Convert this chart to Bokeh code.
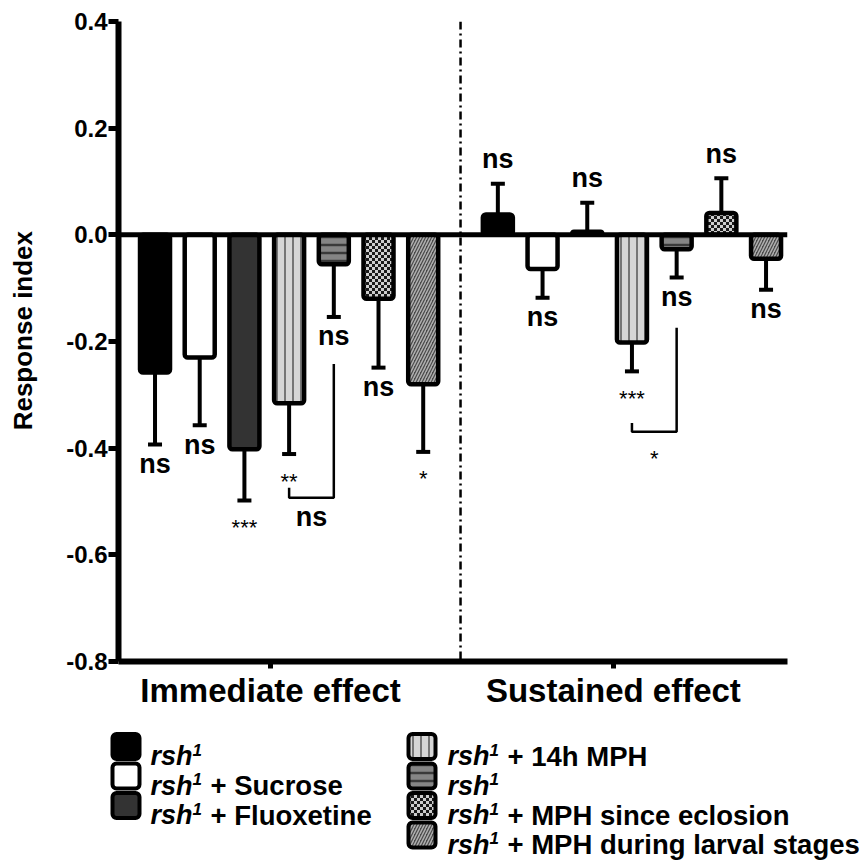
import zlib, struct, base64
from bokeh.plotting import figure
from bokeh.models import Range1d, FixedTicker, Span, ColumnDataSource, ImageURLTexture
from bokeh.core.properties import value
from bokeh.embed import file_html
from bokeh.resources import INLINE

# ---------------- data ----------------
groups = ["Immediate effect", "Sustained effect"]
immediate_mean = [-0.258, -0.230, -0.402, -0.316, -0.055, -0.120, -0.280]
immediate_sem = [0.135, 0.127, 0.096, 0.095, 0.099, 0.129, 0.127]
sustained_mean = [0.038, -0.064, 0.006, -0.202, -0.027, 0.041, -0.045]
sustained_sem = [0.058, 0.054, 0.054, 0.054, 0.053, 0.065, 0.058]
immediate_sig = ["ns", "ns", "***", "**", "ns", "ns", "*"]
sustained_sig = ["ns", "ns", "ns", "***", "ns", "ns", "ns"]

# comparison brackets between bar a and bar b of a group
bracket_group = [0, 1]
bracket_bar_a = [3, 3]
bracket_bar_b = [4, 4]
bracket_top_a = [-0.474, -0.353]
bracket_top_b = [-0.242, -0.174]
bracket_bottom = [-0.493, -0.369]
bracket_label = ["ns", "*"]

y_ticks = [-0.8, -0.6, -0.4, -0.2, 0.0, 0.2, 0.4]
y_tick_labels = ["-0.8", "-0.6", "-0.4", "-0.2", "0.0", "0.2", "0.4"]
y_title = "Response index"

legend_genotype = "rsh"
legend_superscript = "1"
legend_suffix = ["", "+ Sucrose", "+ Fluoxetine", "+ 14h MPH", "",
                 "+ MPH since eclosion", "+ MPH during larval stages"]

# ---------------- styles ----------------
FONT = "Liberation Sans"
bar_fill = ["#000000", "#ffffff", "#333333", "#d6d6d6", "#858585", "#d0d0d0", "#4a4a4a"]
bar_hatch = [" ", " ", " ", "|", "-", "checker", "/"]
bar_hatch_color = ["#000000", "#000000", "#000000", "#555555", "#3a3a3a", "#000000", "#b0b0b0"]
bar_hatch_scale = [8, 8, 8, 8, 8, 8, 6]
bar_hatch_weight = [1, 1, 1, 1.5, 2.5, 1, 1.5]


def png_gray(rows):
    h = len(rows)
    w = len(rows[0])
    raw = b"".join(b"\x00" + bytes(r) for r in rows)

    def chunk(t, d):
        c = struct.pack(">I", len(d)) + t + d
        return c + struct.pack(">I", zlib.crc32(t + d) & 0xFFFFFFFF)

    return (b"\x89PNG\r\n\x1a\n" + chunk(b"IHDR", struct.pack(">IIBBBBB", w, h, 8, 0, 0, 0, 0))
            + chunk(b"IDAT", zlib.compress(raw)) + chunk(b"IEND", b""))


cell = 3
checker_rows = [[25 if ((x // cell) + (y // cell)) % 2 == 0 else 205 for x in range(2 * cell)]
                for y in range(2 * cell)]
checker_url = "data:image/png;base64," + base64.b64encode(png_gray(checker_rows)).decode()
hatch_extra = {"checker": ImageURLTexture(url=checker_url, repetition="repeat")}

# ---------------- layout constants ----------------
LEFT, RIGHT, TOP, BOTTOM = 118, 77, 21, 59
PPU = 640 / 1.2            # pixels per data unit on y
BAR_STEP_PX = 44.7         # pixels per x unit
GROUP_OFFSET = 7.67        # x offset of the second group
BAR_W = 30 / BAR_STEP_PX
CAP_HALF = 7 / BAR_STEP_PX
TICK_SHIFT = 0.415

means = immediate_mean + sustained_mean
sems = immediate_sem + sustained_sem
sigs = immediate_sig + sustained_sig
n = len(immediate_mean)
xs = [g * GROUP_OFFSET + k for g in range(2) for k in range(n)]
signs = [1 if m >= 0 else -1 for m in means]
ends = [m + s * e for m, s, e in zip(means, signs, sems)]

styles = dict(fill=bar_fill * 2, hatch=bar_hatch * 2, hcol=bar_hatch_color * 2,
              hsc=bar_hatch_scale * 2, hw=bar_hatch_weight * 2)
src = ColumnDataSource(dict(x=xs, top=means, **styles))

p = figure(width=864, height=720, x_range=Range1d(-0.817, 14.15), y_range=Range1d(-0.8, 0.4),
           output_backend="svg", toolbar_location=None,
           min_border_left=LEFT, min_border_right=RIGHT, min_border_top=TOP,
           min_border_bottom=BOTTOM)
p.outline_line_color = None
p.grid.visible = False
p.background_fill_color = "white"

# error bars (one-sided, away from zero)
p.segment(x0=xs, y0=means, x1=xs, y1=ends, line_color="black", line_width=4)
p.segment(x0=[x - CAP_HALF for x in xs], y0=ends, x1=[x + CAP_HALF for x in xs], y1=ends,
          line_color="black", line_width=4)

# bars
p.vbar(x="x", top="top", bottom=0, width=BAR_W, source=src, fill_color="fill",
       line_color="black", line_width=4.5, hatch_pattern="hatch", hatch_color="hcol",
       hatch_scale="hsc", hatch_weight="hw", hatch_extra=hatch_extra, border_radius=3)

# zero line and divider
p.add_layout(Span(location=0, dimension="width", line_color="black", line_width=5))
p.add_layout(Span(location=(n - 1 + GROUP_OFFSET) / 2, dimension="height", line_color="black",
                  line_width=2.5, line_dash="8 4 2 4"))

# significance labels
ns_x, ns_y, ns_t, st_x, st_y, st_t = [], [], [], [], [], []
for x, e, s, t in zip(xs, ends, signs, sigs):
    if t == "ns":
        ns_x.append(x)
        ns_y.append(e + s * 22 / PPU + 2.5 / PPU)
        ns_t.append(t)
    else:
        st_x.append(x)
        st_y.append(e + s * 22 / PPU - 5 / PPU)
        st_t.append(t)

# brackets
bx, by = [], []
for g, a, b, ta, tb, bot, lab in zip(bracket_group, bracket_bar_a, bracket_bar_b, bracket_top_a,
                                     bracket_top_b, bracket_bottom, bracket_label):
    xa = g * GROUP_OFFSET + a
    xb = g * GROUP_OFFSET + b
    bx.append([xa, xa, xb, xb])
    by.append([ta, bot, bot, tb])
    if lab == "ns":
        ns_x.append((xa + xb) / 2)
        ns_y.append(bot - 22 / PPU + 2.5 / PPU)
        ns_t.append(lab)
    else:
        st_x.append((xa + xb) / 2)
        st_y.append(bot - 22 / PPU - 5 / PPU)
        st_t.append(lab)
p.multi_line(xs=bx, ys=by, line_color="black", line_width=2.5)

p.text(x=ns_x, y=ns_y, text=ns_t, text_font=value(FONT), text_font_size="27px",
       text_font_style="bold", text_align="center", text_baseline="middle", text_color="black")
p.text(x=st_x, y=st_y, text=st_t, text_font=value(FONT), text_font_size="22px",
       text_font_style="normal", text_align="center", text_baseline="middle", text_color="black")

# axes
tick_x = [round(g * GROUP_OFFSET + (n - 1) / 2 - TICK_SHIFT, 4) for g in range(2)]
p.xaxis.ticker = FixedTicker(ticks=tick_x)
p.xaxis.major_label_overrides = {t: lab for t, lab in zip(tick_x, groups)}
p.yaxis.ticker = FixedTicker(ticks=y_ticks)
p.yaxis.major_label_overrides = {t: lab for t, lab in zip(y_ticks, y_tick_labels)}
# leading no-break spaces move the (centred) title up a little, as in the reference
p.yaxis.axis_label = "\u00a0\u00a0\u00a0" + y_title
for ax in (p.xaxis[0], p.yaxis[0]):
    ax.axis_line_width = 6
    ax.axis_line_color = "black"
    ax.major_tick_line_color = "black"
    ax.major_tick_line_width = 5
    ax.major_tick_in = 0
    ax.minor_tick_line_color = None
    ax.major_label_text_font = FONT
    ax.major_label_text_font_style = "bold"
    ax.major_label_text_color = "black"
p.xaxis.major_tick_out = 7
p.xaxis.major_label_text_font_size = "33px"
p.xaxis.major_label_standoff = 3
p.yaxis.major_tick_out = 10
p.yaxis.major_label_standoff = 1
p.yaxis.major_label_text_font_size = "24px"
p.yaxis.axis_label_text_font = FONT
p.yaxis.axis_label_text_font_size = "26px"
p.yaxis.axis_label_text_font_style = "bold"
p.yaxis.axis_label_text_color = "black"
p.yaxis.axis_label_standoff = 25

# ---------------- legend (separate root below, data units = page pixels) ----------------
LH = 142
lg = figure(width=864, height=LH, x_range=Range1d(0, 864), y_range=Range1d(LH, 0),
            output_backend="svg", toolbar_location=None,
            min_border_left=0, min_border_right=0, min_border_top=0, min_border_bottom=0)
lg.axis.visible = False
lg.grid.visible = False
lg.outline_line_color = None

col_sw_left = [112, 408]
col_text_x = [150, 447]
row0 = 26
row_step = 29.5
col_of = [0, 0, 0, 1, 1, 1, 1]
row_of = [0, 1, 2, 0, 1, 2, 3]
yc = [row0 + r * row_step for r in row_of]
sw_left = [col_sw_left[c] for c in col_of]
lsrc = ColumnDataSource(dict(left=sw_left, right=[l + 27 for l in sw_left],
                             top=[y - 12.5 for y in yc], bottom=[y + 12.5 for y in yc],
                             fill=bar_fill, hatch=bar_hatch, hcol=bar_hatch_color,
                             hsc=bar_hatch_scale, hw=bar_hatch_weight))
lg.quad(left="left", right="right", top="top", bottom="bottom", source=lsrc, fill_color="fill",
        line_color="black", line_width=4, hatch_pattern="hatch", hatch_color="hcol",
        hatch_scale="hsc", hatch_weight="hw", hatch_extra=hatch_extra, border_radius=4)

tx = [col_text_x[c] for c in col_of]
lg.text(x=tx, y=[y + 9.5 for y in yc], text=[legend_genotype] * len(yc), text_font=value(FONT),
        text_font_size="27px", text_font_style="bold italic", text_baseline="alphabetic",
        text_color="black")
lg.text(x=[x + 42 for x in tx], y=[y + 3 for y in yc], text=[legend_superscript] * len(yc),
        text_font=value(FONT), text_font_size="17px", text_font_style="bold italic",
        text_baseline="alphabetic", text_color="black")
lg.text(x=[x + 60 for x in tx], y=[y + 9.5 for y in yc], text=legend_suffix,
        text_font=value(FONT), text_font_size="27.5px", text_font_style="bold",
        text_baseline="alphabetic", text_color="black")

open("out.html", "w").write(file_html([p, lg], INLINE))
